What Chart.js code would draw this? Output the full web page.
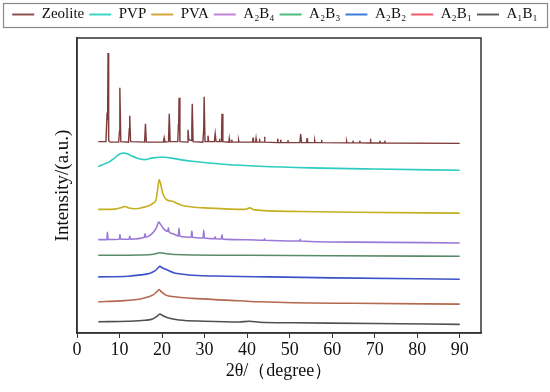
<!DOCTYPE html>
<html>
<head>
<meta charset="utf-8">
<script src="https://cdn.jsdelivr.net/npm/chart.js@4"></script>
<style>
  html, body { margin: 0; padding: 0; background: #fff; }
  #wrap { width: 550px; height: 392px; }
</style>
</head>
<body>
<div id="wrap"><canvas id="chart" width="550" height="392"></canvas></div>
<script>
// XRD patterns: [2θ (degree), intensity (a.u., stacked offsets)]
const labels = ["Zeolite", "PVP", "PVA", "A₂B₄", "A₂B₃", "A₂B₂", "A₂B₁", "A₁B₁"];

const zeolite = [
  [5.0,192],[6.8,192],[7.05,218],[7.2,216],[7.3,281],[7.45,193],[7.8,191.5],
  [9.8,191.5],[10.0,203],[10.05,200],[10.1,246],[10.3,192],
  [12.1,191.5],[12.3,205],[12.4,218],[12.6,192],
  [15.9,191.5],[16.1,210],[16.3,191.5],
  [20.3,191.5],[20.5,196],[20.7,191.5],
  [21.4,192],[21.55,198],[21.7,220],[21.9,192],
  [23.7,192],[23.85,210],[23.9,206],[24.0,236],[24.2,192],
  [25.9,191.5],[26.1,204],[26.3,194],[26.9,193],[27.0,205],[27.1,230],[27.3,192],
  [29.6,191.5],[29.8,205],[29.9,237],[30.1,192],[30.7,192],[30.8,198],[30.95,192],
  [32.3,192],[32.5,200],[32.7,192],[33.4,192],[33.5,195],[33.6,192],
  [33.9,192],[34.0,200],[34.1,220],[34.3,192],
  [35.7,191.5],[35.8,195],[35.9,191.5],[36.3,191.5],[36.4,194],[36.5,191.5],
  [37.9,191.5],[38.0,193.5],[38.1,191.5],
  [41.3,191.5],[41.4,196],[41.5,191.5],[42.0,191.5],[42.1,195],[42.2,191.5],
  [42.8,191.5],[42.9,195],[43.0,191.5],[44.0,191.5],[44.1,197],[44.2,191.5],
  [47.1,191],[47.2,195],[47.3,191],[47.8,191],[47.9,194],[48.0,191],
  [49.5,191],[49.6,193.5],[49.7,191],
  [52.4,191],[52.6,199.5],[52.8,191],[54.0,191],[54.1,195.5],[54.2,191],
  [55.8,191],[55.9,193],[56.0,191],[57.4,191],[57.5,194],[57.6,191],
  [63.3,190.8],[63.4,192.5],[63.5,190.8],[64.8,190.8],[64.9,193],[65.0,190.8],
  [66.4,190.8],[66.5,193],[66.6,190.8],
  [68.9,190.7],[69.0,195],[69.1,190.7],[71.1,190.6],[71.2,193],[71.3,190.6],
  [72.3,190.6],[72.4,193],[72.5,190.6],
  [90,190.3]
];

const pvp = [
  [5,167],[6.5,169.7],[7.5,171.5],[8.5,174.5],[9.5,178],[10.3,180],[11.1,180.5],
  [12,179.5],[12.7,178],[14.2,175.3],[15.8,174],[17.8,175.7],[19.5,176.3],
  [20.5,176.3],[22.9,175],[25,173.5],[27.2,172.3],[31,170.5],[35.1,169],
  [42.9,167.3],[54.7,165.7],[70,164.5],[90,163.3]
];

const pva = [
  [5,124],[9,124.3],[10.5,126],[11.3,127],[12.2,125.5],[13.8,124.7],[15.5,126],
  [17,128],[18,130.5],[18.6,134],[19,145],[19.3,153.7],[19.7,149],[20.1,141],
  [20.6,136],[21.2,133.5],[22.6,132],[23.3,130.5],[24.8,128],[27,126.5],
  [31.1,125.3],[36,124.3],[39.5,124],[40.6,125.5],[41.8,123.5],[50.8,122],
  [65,121.2],[90,120.3]
];

const a2b4 = [
  [5,93.7],[6.9,93.7],[7.05,93.8],[7.15,101],[7.3,93.8],[9.95,94],[10.1,98.7],
  [10.25,94],[12.25,94.2],[12.4,97],[12.55,94.2],[15.85,96],[16.0,99.5],
  [16.15,96.2],[17,97.5],[18,101.3],[18.7,106],[19.2,111.3],[19.8,108],
  [20.5,104],[21.35,102],[21.5,105.5],[21.65,101.5],[22.5,99.7],[23.85,97.5],
  [24.0,105],[24.15,97.3],[25.5,96.3],[26.85,96],[27.0,102.3],[27.15,96],
  [29.65,95.3],[29.8,103],[29.95,95.3],[32.35,94.6],[32.5,96.5],[32.65,94.5],
  [33.95,94.3],[34.1,98.5],[34.25,94.2],[40,93.6],[44,93],[44.1,94.5],[44.2,93],
  [52.4,92.3],[52.5,94],[52.6,92.3],[65,91.2],[90,90.3]
];

const a2b3 = [
  [5,78],[15,78.3],[18,79],[19.5,80.5],[21,79.5],[25,78.5],[40,78],[60,77.5],[90,77]
];

const a2b2 = [
  [5,56.3],[12,57],[15,58.3],[17,59.7],[18.3,62.3],[19.1,65.5],[19.5,67],[20,65.5],
  [21,63.7],[22.9,60.3],[25,59],[27.2,58],[35,57],[45,56.3],[60,55.3],[90,54]
];

const a2b1 = [
  [5,31.3],[10,32.2],[15.4,34.7],[17.8,38],[18.8,41.5],[19.3,43.7],[19.8,41.5],
  [20.9,38],[22.9,36.3],[27.2,34.7],[35.1,33],[42.9,31.3],[50.8,30.3],[65,29.8],[90,29]
];

const a1b1 = [
  [5,11.3],[12,11.8],[16,12.8],[17.8,14],[18.9,17],[19.5,19],[20.1,17.5],[21.3,15.3],
  [24,13],[30,11.8],[38,11],[40.6,11.8],[43,10.8],[50.8,10.3],[70,9.5],[90,8.7]
];

const seriesData = [zeolite, pvp, pva, a2b4, a2b3, a2b2, a2b1, a1b1];
const lineColors = ["#7e3b3b", "#2ccdc0", "#c4b020", "#9a78d8", "#5a8a6a", "#3b52c8", "#b46a50", "#505050"];
const legendColors = ["#8c5050", "#3cd6c6", "#d4a53a", "#c084d8", "#4cbf7e", "#3a7fd6", "#f05a6a", "#606060"];

const serif = "'Liberation Serif', 'Times New Roman', serif";

const datasets = labels.map((name, i) => ({
  label: name,
  data: seriesData[i].map(p => ({ x: p[0], y: p[1] })),
  borderColor: lineColors[i],
  borderWidth: i === 0 ? 1.4 : 1.6,
  pointRadius: 0,
  fill: false,
  cubicInterpolationMode: i === 0 ? "default" : "monotone",
  tension: i === 0 ? 0 : 0.4
}));

// frame around the plot area and around the legend
const frames = {
  id: "frames",
  afterDraw(chart) {
    const { ctx, chartArea: a, legend } = chart;
    ctx.save();
    ctx.strokeStyle = "#333";
    ctx.lineWidth = 1.5;
    ctx.strokeRect(a.left, a.top, a.right - a.left, a.bottom - a.top);
    ctx.strokeStyle = "#888";
    ctx.lineWidth = 1.2;
    ctx.strokeRect(3.5, legend.top + 1.5, 544, 24);
    ctx.restore();
  }
};

const ctx = document.getElementById("chart").getContext("2d");

new Chart(ctx, {
  type: "line",
  data: { datasets },
  plugins: [frames],
  options: {
    responsive: false,
    animation: false,
    layout: { padding: { top: 2, right: 0, left: 0, bottom: 0 } },
    plugins: {
      tooltip: { enabled: false },
      legend: {
        position: "top",
        labels: {
          font: { family: serif, size: 15 },
          color: "#111",
          boxWidth: 22,
          boxHeight: 2,
          padding: 5,
          generateLabels(chart) {
            const items = Chart.defaults.plugins.legend.labels.generateLabels(chart);
            return items.map((it, i) => Object.assign(it, {
              fillStyle: legendColors[i], strokeStyle: legendColors[i], lineWidth: 0
            }));
          }
        }
      }
    },
    scales: {
      x: {
        type: "linear",
        min: 0,
        max: 95,
        border: { display: true, color: "#333", width: 1.5 },
        grid: { display: true, drawOnChartArea: false, drawTicks: true, tickLength: 5, color: "#333" },
        ticks: {
          stepSize: 10,
          includeBounds: false,
          padding: 1,
          color: "#111",
          font: { family: serif, size: 18 }
        },
        title: {
          display: true,
          text: "2θ/（degree）",
          color: "#111",
          font: { family: serif, size: 18 },
          padding: { top: 0, bottom: 10 }
        },
        afterFit(scale) { scale.height = 59; }
      },
      // empty top axis that only reserves the gap under the legend
      xTop: {
        type: "linear",
        position: "top",
        min: 0,
        max: 1,
        border: { display: false },
        grid: { display: false },
        ticks: { display: false },
        afterFit(scale) { scale.height = 6; }
      },
      y: {
        type: "linear",
        min: 0,
        max: 296,
        border: { display: true, color: "#333", width: 1.5 },
        grid: { display: false },
        ticks: { display: false },
        title: {
          display: true,
          text: "Intensity/(a.u.)",
          color: "#111",
          font: { family: serif, size: 19 },
          padding: { top: 52, bottom: 0 }
        },
        afterFit(scale) { scale.width = 77; }
      },
      // empty right-hand axis that only reserves the white margin
      yRight: {
        type: "linear",
        position: "right",
        min: 0,
        max: 1,
        border: { display: false },
        grid: { display: false },
        ticks: { display: false },
        afterFit(scale) { scale.width = 69; }
      }
    }
  }
});
</script>
</body>
</html>
